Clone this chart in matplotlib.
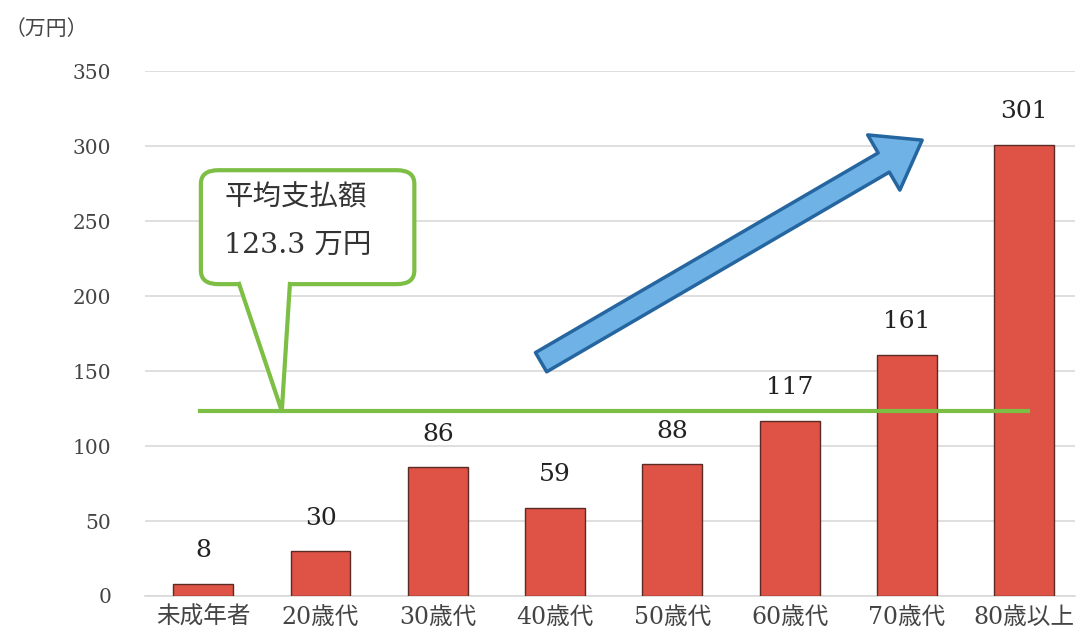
import matplotlib
matplotlib.use("Agg")
import matplotlib.pyplot as plt
from matplotlib.patches import FancyBboxPatch, FancyArrowPatch, Polygon

plt.rcParams['font.family'] = ['DejaVu Serif', 'Noto Sans CJK JP']

categories = ["未成年者", "20歳代", "30歳代", "40歳代", "50歳代", "60歳代", "70歳代", "80歳以上"]
values = [8, 30, 86, 59, 88, 117, 161, 301]
average = 123.3
yticks = [0, 50, 100, 150, 200, 250, 300, 350]

fig = plt.figure(figsize=(10.79, 6.42), dpi=100)
ax = fig.add_axes([0.134, 0.0717, 0.862, 0.8173])

x = list(range(len(categories)))
ax.bar(x, values, width=0.51, color="#DE5346", edgecolor="#5a2a24", linewidth=1.0, zorder=3)
for xi, v in zip(x, values):
    ax.text(xi, v + 22, str(v), ha="center", va="center", fontsize=18, color="#222222")

ax.set_xlim(-0.5, 7.43)
ax.set_ylim(0, 350)
ax.set_yticks(yticks)
ax.set_xticks(x)
ax.set_xticklabels(categories, fontsize=17, color="#444444")
ax.tick_params(axis="y", labelsize=14.5, colors="#444444", length=0, pad=24)
ax.tick_params(axis="x", length=0, pad=7)
ax.grid(axis="y", color="#d9d9d9", linewidth=1.2, zorder=0)
for s in ["top", "right", "left"]:
    ax.spines[s].set_visible(False)
ax.spines["bottom"].set_color("#d9d9d9")
ax.spines["bottom"].set_linewidth(1.2)

# average line
green = "#7DBE45"
ax.plot([-0.03, 7.03], [average, average], color=green, linewidth=3, zorder=4)

# callout
box = FancyBboxPatch((-0.02, 208), 1.82, 76, boxstyle="round,pad=0,rounding_size=0.15",
                     mutation_aspect=60, facecolor="white", edgecolor=green, linewidth=3, zorder=5)
ax.add_patch(box)
pointer = Polygon([(0.30, 209.5), (0.67, average), (0.74, 209.5)], closed=False,
                  facecolor="none", edgecolor=green, linewidth=3, zorder=6, joinstyle="miter")
ax.add_patch(pointer)
ax.fill([0.31, 0.67, 0.73], [209.5, average + 2, 209.5], color="white", zorder=5.5)
ax.text(0.18, 266, "平均支払額", fontsize=20.5, color="#333333", va="center", zorder=7)
ax.text(0.18, 234, "123.3 万円", fontsize=20.5, color="#333333", va="center", zorder=7)

# trend arrow
arrow = FancyArrowPatch((2.86, 155), (6.15, 305),
                        arrowstyle="simple,tail_width=0.8,head_width=2.3,head_length=1.6",
                        mutation_scale=20, facecolor="#6FB2E6", edgecolor="#2566A0",
                        linewidth=2.5, zorder=6)
ax.add_patch(arrow)

fig.text(0.004, 0.955, "（万円）", fontsize=15, color="#444444", va="center")

fig.savefig("out.png", dpi=100)
